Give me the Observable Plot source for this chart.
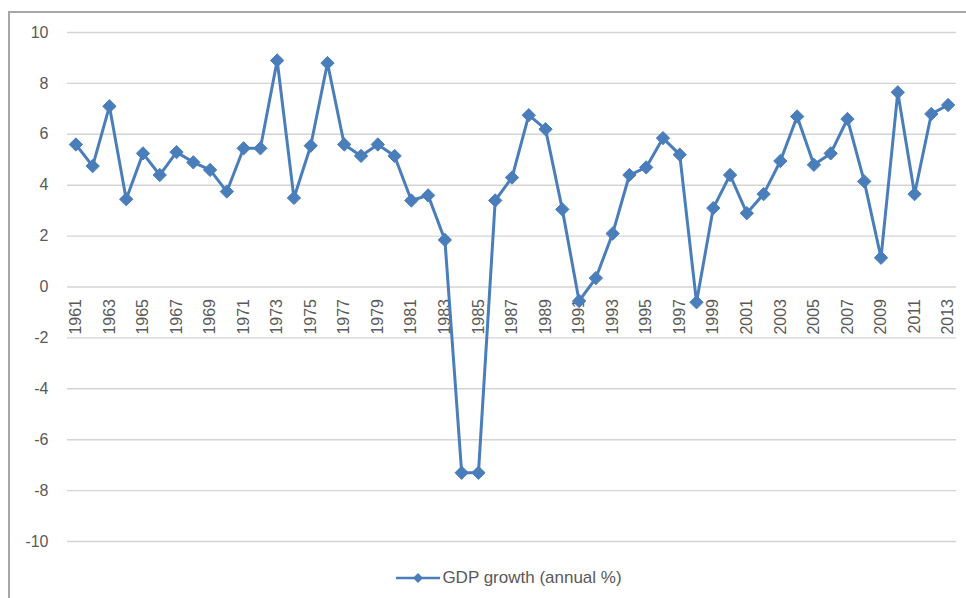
<!DOCTYPE html>
<html>
<head>
<meta charset="utf-8">
<script src="https://cdn.jsdelivr.net/npm/d3@7"></script>
<script src="https://cdn.jsdelivr.net/npm/@observablehq/plot@0.6"></script>
<style>
  html, body { margin: 0; padding: 0; background: #fff; }
  #wrap { position: relative; width: 966px; height: 598px; overflow: hidden; background: #fff; font-family: "Liberation Sans", Arial, sans-serif; }
  #frame { position: absolute; left: 8px; top: 11px; right: -2px; bottom: -2px; border-top: 2px solid #a6a6a6; border-left: 2px solid #a6a6a6; pointer-events: none; }
  #chart svg { display: block; }
  #legend { position: absolute; left: 0; top: 564px; width: 966px; height: 28px; display: flex; justify-content: center; align-items: center; }
  #legend span { font-size: 17px; color: #595959; margin-left: 2px; transform: translateX(26px); }
  #legend svg { transform: translateX(26px); }
</style>
</head>
<body>
<div id="wrap">
  <div id="chart"></div>
  <div id="legend"></div>
  <div id="frame"></div>
</div>
<script>
const years = [1961,1962,1963,1964,1965,1966,1967,1968,1969,1970,
  1971,1972,1973,1974,1975,1976,1977,1978,1979,1980,
  1981,1982,1983,1984,1985,1986,1987,1988,1989,1990,
  1991,1992,1993,1994,1995,1996,1997,1998,1999,2000,
  2001,2002,2003,2004,2005,2006,2007,2008,2009,2010,
  2011,2012,2013];
const gdpGrowth = [5.6,4.75,7.1,3.45,5.25,4.4,5.3,4.9,4.6,3.75,
  5.45,5.45,8.9,3.5,5.55,8.8,5.6,5.15,5.6,5.15,
  3.4,3.6,1.85,-7.3,-7.3,3.4,4.3,6.75,6.2,3.05,
  -0.55,0.35,2.1,4.4,4.7,5.85,5.2,-0.6,3.1,4.4,
  2.9,3.65,4.95,6.7,4.8,5.25,6.6,4.15,1.15,7.65,
  3.65,6.8,7.15];
const xTickLabels = [1961,1963,1965,1967,1969,1971,1973,1975,1977,1979,1981,1983,1985,1987,1989,
  1991,1993,1995,1997,1999,2001,2003,2005,2007,2009,2011,2013];
const yTicks = [-10,-8,-6,-4,-2,0,2,4,6,8,10];
const seriesName = "GDP growth (annual %)";

const data = years.map((y, i) => ({year: y, value: gdpGrowth[i]}));
const blue = "#4a7ebb";
const gray = "#595959";

const chart = Plot.plot({
  width: 966,
  height: 556,
  marginLeft: 67,
  marginRight: 10,
  marginTop: 32,
  marginBottom: 15,
  style: {fontFamily: "'Liberation Sans', Arial, sans-serif", background: "transparent"},
  x: {type: "point", domain: years, padding: 0.5, axis: null},
  y: {domain: [-10, 10], axis: null},
  marks: [
    Plot.gridY(yTicks, {stroke: "#d4d4d4", strokeOpacity: 1, strokeWidth: 1.4}),
    Plot.axisY(yTicks, {label: null, tickSize: 0, tickPadding: 19, fontSize: 16, fill: gray, tickFormat: d => String(d)}),
    Plot.text(xTickLabels, {x: d => d, y: () => 0, text: d => String(d), rotate: -90,
      textAnchor: "end", lineAnchor: "middle", dy: 12, fontSize: 16, fill: gray}),
    Plot.line(data, {x: "year", y: "value", stroke: blue, strokeWidth: 3}),
    Plot.dot(data, {x: "year", y: "value", symbol: "diamond2", r: 6, fill: blue, stroke: blue, strokeWidth: 1})
  ]
});
document.getElementById("chart").appendChild(chart);

const legend = document.getElementById("legend");
const ns = "http://www.w3.org/2000/svg";
const ls = document.createElementNS(ns, "svg");
ls.setAttribute("width", 44); ls.setAttribute("height", 14);
ls.innerHTML = `<line x1="0" y1="7" x2="44" y2="7" stroke="${blue}" stroke-width="2.5"/>
  <path d="M22,2L27,7L22,12L17,7Z" fill="${blue}"/>`;
legend.appendChild(ls);
const lt = document.createElement("span");
lt.textContent = seriesName;
legend.appendChild(lt);
</script>
</body>
</html>
